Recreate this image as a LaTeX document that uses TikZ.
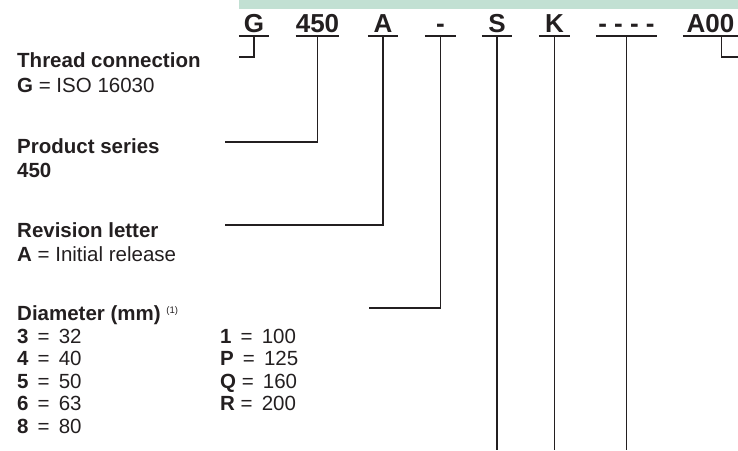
\documentclass[tikz,border=0pt]{standalone}
\usepackage{fontspec}
\setmainfont{Liberation Sans}
\usepackage{tikz}
\usetikzlibrary{positioning}
\usetikzlibrary{calc}
\definecolor{ink}{RGB}{35,31,32}
\definecolor{band}{RGB}{194,224,211}
\tikzstyle{head} = [anchor=base west, inner sep=0pt, font=\fontsize{20.5}{24}\selectfont\bfseries, text=ink]
\tikzstyle{entry} = [anchor=base west, inner sep=0pt, font=\fontsize{20.5}{24}\selectfont, text=ink]
\tikzstyle{code} = [anchor=base, inner sep=0pt, font=\fontsize{26}{30}\selectfont\bfseries, text=ink]
\tikzstyle{leader} = [draw=ink, line width=1.3pt]
\newcommand{\codeline}[1]{\draw[leader, line width=1.5pt] ([yshift=-4pt]#1.base west) -- ([yshift=-4pt]#1.base east);}
\newcommand{\note}{\raisebox{7pt}{\fontsize{9.5}{10}\selectfont\mdseries (1)}}

\begin{document}
\begin{tikzpicture}[x=1pt,y=-1pt]
    \useasboundingbox (0,0) rectangle (738,450);
    \fill[band] (239,0) rectangle (738,9);

    % ordering code
    \node [code, minimum width=30pt] (cG) at (254,32) {G};
    \node [code, minimum width=43pt] (c450) at (317.5,32) {450};
    \node [code, minimum width=30pt] (cA) at (383,32) {A};
    \node [code, minimum width=31pt] (cDash) at (440.5,32) {-};
    \node [code, minimum width=30pt] (cS) at (497,32) {S};
    \node [code, minimum width=31pt] (cK) at (554.5,32) {K};
    \node [code, minimum width=61pt] (cBlank) at (626.5,32) {- - - -};
    \node [code, minimum width=55pt] (cA00) at (710.5,32) {A00};

    \codeline{cG}
    \codeline{c450}
    \codeline{cA}
    \codeline{cDash}
    \codeline{cS}
    \codeline{cK}
    \codeline{cBlank}
    \codeline{cA00}

    % descriptions
    \node [head] (thread) at (17,67) {Thread connection};
    \node [entry] (threadG) at (17,92) {\textbf{G} = ISO 16030};
    \node [head] (series) at (17,153) {Product series};
    \node [head] (series450) at (17,177) {450};
    \node [head] (revision) at (17,237) {Revision letter};
    \node [entry] (revisionA) at (17,261) {\textbf{A} = Initial release};
    \node [head] (diameter) at (17,320) {Diameter (mm) \note};

    \node [entry] (d3) at (17,343) {\textbf{3} \,=\, 32};
    \node [entry] (d4) at (17,365.5) {\textbf{4} \,=\, 40};
    \node [entry] (d5) at (17,388) {\textbf{5} \,=\, 50};
    \node [entry] (d6) at (17,410.5) {\textbf{6} \,=\, 63};
    \node [entry] (d8) at (17,433) {\textbf{8} \,=\, 80};
    \node [entry] (d1) at (220,343) {\textbf{1} \,=\, 100};
    \node [entry] (dP) at (220,365.5) {\textbf{P} \,=\, 125};
    \node [entry] (dQ) at (220,388) {\textbf{Q} =\, 160};
    \node [entry] (dR) at (220,410.5) {\textbf{R} =\, 200};

    \coordinate (hookG) at (239,57);
    \coordinate (line450) at (225,142);
    \coordinate (lineA) at (225,225);
    \coordinate (lineDash) at (369,308);
    \coordinate (hookA00) at (738,57);
    \coordinate (bottom) at (0,450);

     \draw[leader] ([yshift=-4pt]cG.base) |- (hookG);
     \draw[leader] ([yshift=-4pt]c450.base) |- (line450);
     \draw[leader] ([yshift=-4pt]cA.base) |- (lineA);
     \draw[leader] ([yshift=-4pt]cDash.base) |- (lineDash);
     \draw[leader] ([yshift=-4pt]cS.base) -- (cS.base |- bottom);
     \draw[leader] ([yshift=-4pt]cK.base) -- (cK.base |- bottom);
     \draw[leader] ([yshift=-4pt]cBlank.base) -- (cBlank.base |- bottom);
     \draw[leader] ([yshift=-4pt,xshift=11pt]cA00.base) |- (hookA00);
\end{tikzpicture}
\end{document}
